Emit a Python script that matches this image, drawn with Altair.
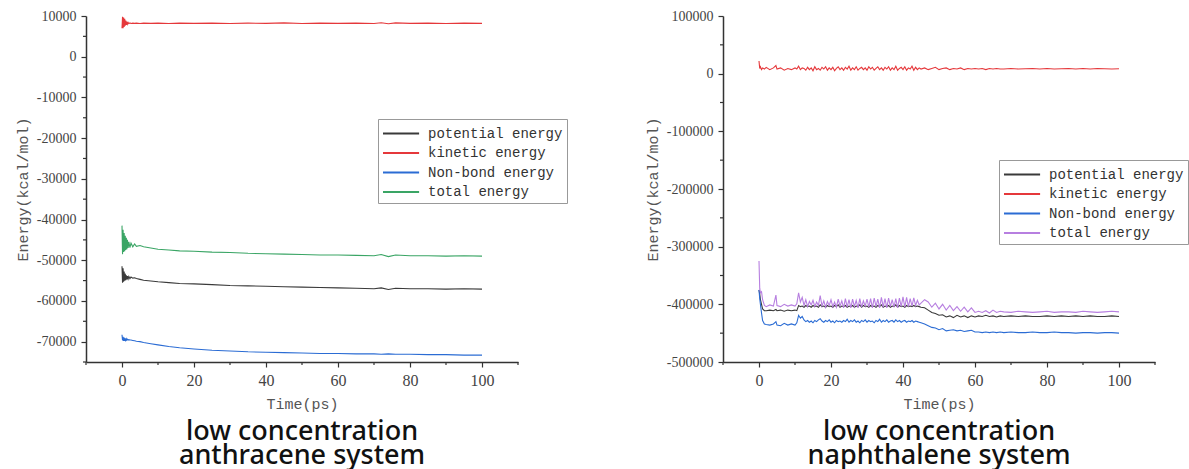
import altair as alt
import pandas as pd

SERIES = ["potential energy", "kinetic energy", "Non-bond energy", "total energy"]
COLORS_A = ["#3a3a3a", "#e5383b", "#2b6cd4", "#3aa565"]
COLORS_N = ["#3a3a3a", "#e5383b", "#2b6cd4", "#b77fe0"]

# ---------------- anthracene (left) ----------------
T_A = [0, 0.15, 0.3, 0.45, 0.6, 0.75, 0.9, 1.05, 1.2, 1.35,
       1.5, 1.7, 1.9, 2.2, 2.5, 3, 3.5, 4, 5, 6,
       8, 10, 13, 16, 20, 25, 30, 35, 40, 45,
       50, 55, 60, 65, 70, 72, 74, 76, 80, 85,
       90, 95, 100]
POT_A = [-51500, -55500, -52000, -55300, -52800, -55000, -53300, -54900, -53700, -54700,
         -53900, -54600, -54000, -54500, -54100, -54400, -54300, -54500, -54700, -54900,
         -55100, -55300, -55500, -55700, -55800, -56000, -56200, -56300, -56400, -56500,
         -56600, -56700, -56800, -56900, -57000, -56800, -57200, -56900, -57000, -57000,
         -57100, -57000, -57100]
KIN_A = [7000, 9800, 7000, 9600, 7300, 9300, 7600, 8900, 7800, 8600,
         8000, 8400, 8100, 8300, 8150, 8250, 8200, 8250, 8150, 8250,
         8200, 8250, 8150, 8250, 8200, 8250, 8150, 8250, 8200, 8300,
         8150, 8250, 8200, 8250, 8150, 8350, 8100, 8300, 8200, 8250,
         8150, 8250, 8200]
NB_A = [-68300, -69700, -68800, -69800, -69000, -69800, -69200, -69700, -69300, -69600,
        -69400, -69600, -69500, -69600, -69600, -69700, -69800, -69900, -70000, -70200,
        -70500, -70800, -71200, -71500, -71800, -72100, -72300, -72500, -72600, -72700,
        -72800, -72900, -72900, -73000, -73000, -73100, -73000, -73100, -73100, -73200,
        -73200, -73300, -73300]
TOT_A = [-41500, -48500, -42500, -48000, -43300, -47800, -44000, -47500, -44500, -47300,
         -45000, -47000, -45500, -46900, -45800, -46700, -46000, -46600, -46400, -46700,
         -47000, -47300, -47500, -47700, -47800, -48000, -48100, -48300, -48400, -48500,
         -48600, -48700, -48700, -48800, -48900, -48600, -49100, -48700, -48900, -48900,
         -49000, -48900, -49000]

# ---------------- naphthalene (right) ----------------
T_N = ([0, 0.2, 0.4, 0.7, 1.0, 1.5, 2, 3, 4, 4.7, 5, 6, 7, 8, 9, 10, 10.5, 11, 11.5, 12]
       + [12.5, 13, 13.5, 14, 14.5, 15, 15.5, 16, 16.5, 17, 17.5,
          18, 18.5, 19, 19.5, 20, 20.5, 21, 21.5, 22, 22.5, 23,
          23.5, 24, 24.5, 25, 25.5, 26, 26.5, 27, 27.5, 28, 28.5,
          29, 29.5, 30, 30.5, 31, 31.5, 32, 32.5, 33, 33.5, 34,
          34.5, 35, 35.5, 36, 36.5, 37, 37.5, 38, 38.5, 39, 39.5,
          40, 40.5, 41, 41.5, 42, 42.5, 43, 43.5, 44, 44.5, 45]
       + [46, 47, 48, 49, 50, 51, 52, 53, 54, 55, 56, 57, 58, 59, 60]
       + [61, 62, 63, 64, 65, 66, 67]
       + [68, 70, 72, 74, 76, 78, 80, 82, 84, 86, 88, 90, 92, 94, 96, 98, 100])

POT_N = ([-375000, -382000, -392000, -400000, -408000, -411000, -411000, -410000, -411000, -409000,
          -411000, -410000, -412000, -410000, -411000, -410000, -411000, -402000, -404000, -403000]
         + [-405000, -402000, -404000, -403000, -405000, -402000, -404000, -403000, -405000, -401000, -404000,
            -403000, -405000, -402000, -404000, -403000, -405000, -402000, -404000, -401000, -405000, -403000,
            -404000, -402000, -405000, -403000, -404000, -402000, -405000, -403000, -404000, -401000, -405000,
            -402000, -404000, -403000, -405000, -402000, -404000, -403000, -405000, -402000, -404000, -401000,
            -405000, -403000, -404000, -402000, -405000, -403000, -404000, -401000, -405000, -402000, -404000,
            -403000, -405000, -402000, -404000, -403000, -404000, -402000, -404000, -403000, -404000, -405000]
         + [-406000, -410000, -414000, -416000, -419000, -418000, -422000, -420000, -423000, -419000,
            -422000, -420000, -423000, -420000, -422000]
         + [-420000, -421000, -419000, -421000, -420000, -422000, -420000]
         + [-421000, -420000, -421000, -420000, -421000, -421000, -420000, -421000, -420000, -421000,
            -420000, -421000, -420000, -421000, -421000, -420000, -421000])

KIN_N = ([22000, 9000, 12000, 7000, 10000, 8000, 11000, 7000, 10000, 14000,
          8000, 10000, 6000, 9000, 7000, 10000, 8000, 13000, 7000, 10000]
         + [9000, 6000, 11000, 7000, 10000, 5000, 12000, 7000, 9000, 6000, 11000,
            8000, 12000, 6000, 10000, 7000, 11000, 5000, 9000, 12000, 7000, 10000,
            6000, 11000, 8000, 13000, 6000, 10000, 7000, 12000, 6000, 9000, 11000,
            7000, 10000, 6000, 12000, 8000, 11000, 6000, 9000, 12000, 7000, 10000,
            6000, 11000, 8000, 12000, 6000, 10000, 7000, 13000, 6000, 9000, 11000,
            7000, 12000, 6000, 10000, 8000, 13000, 6000, 11000, 7000, 10000, 8000]
         + [10000, 7000, 9000, 11000, 7000, 9000, 10000, 7000, 9000, 8000, 10000, 7000, 9000, 8000, 9000]
         + [8000, 9000, 7000, 9000, 8000, 9000, 8000]
         + [8000, 9000, 8000, 8500, 9000, 8000, 9000, 8000, 8500, 9000, 8000, 9000, 8000, 9000, 8500, 8000, 8500])

NB_N = ([-375000, -390000, -400000, -415000, -428000, -434000, -435000, -436000, -434000, -430000,
         -436000, -437000, -433000, -436000, -434000, -436000, -432000, -419000, -424000, -421000]
        + [-427000, -430000, -428000, -431000, -429000, -432000, -428000, -430000, -427000, -425000, -429000,
           -431000, -428000, -430000, -427000, -431000, -429000, -432000, -428000, -430000, -429000, -431000,
           -428000, -430000, -426000, -431000, -428000, -430000, -427000, -431000, -429000, -432000, -428000,
           -430000, -427000, -431000, -428000, -430000, -429000, -432000, -428000, -430000, -426000, -431000,
           -428000, -430000, -427000, -431000, -429000, -428000, -431000, -427000, -430000, -428000, -431000,
           -429000, -428000, -431000, -429000, -430000, -428000, -431000, -429000, -430000, -431000, -432000]
        + [-434000, -437000, -440000, -441000, -444000, -442000, -446000, -445000, -444000, -446000,
           -445000, -447000, -446000, -445000, -448000]
        + [-448000, -449000, -448000, -449000, -448000, -449000, -448000]
        + [-449000, -448000, -449000, -449000, -448000, -449000, -449000, -448000, -449000, -449000,
           -450000, -449000, -449000, -450000, -449000, -449000, -450000])

TOT_N = ([-325000, -372000, -380000, -378000, -392000, -402000, -404000, -401000, -403000, -384000,
          -402000, -404000, -400000, -403000, -401000, -403000, -399000, -380000, -396000, -388000]
         + [-402000, -392000, -404000, -395000, -401000, -393000, -404000, -396000, -402000, -385000, -403000,
            -394000, -405000, -395000, -402000, -392000, -404000, -396000, -405000, -391000, -403000, -394000,
            -406000, -390000, -405000, -392000, -406000, -391000, -404000, -393000, -406000, -390000, -405000,
            -394000, -403000, -391000, -405000, -390000, -406000, -389000, -404000, -391000, -406000, -388000,
            -405000, -390000, -406000, -389000, -404000, -392000, -405000, -390000, -406000, -389000, -404000,
            -387000, -405000, -388000, -404000, -390000, -403000, -389000, -402000, -393000, -401000, -398000]
         + [-392000, -396000, -405000, -398000, -408000, -400000, -410000, -402000, -411000, -404000,
            -412000, -405000, -413000, -406000, -414000]
         + [-412000, -414000, -411000, -415000, -410000, -414000, -412000]
         + [-413000, -414000, -412000, -413000, -414000, -413000, -412000, -414000, -413000, -413000,
            -414000, -412000, -413000, -414000, -413000, -412000, -413000])

X_MAJOR = [0, 20, 40, 60, 80, 100]
X_MINOR = [-10, 10, 30, 50, 70, 90, 110]
Y_MAJOR_A = [10000, 0, -10000, -20000, -30000, -40000, -50000, -60000, -70000]
Y_MINOR_A = [5000, -5000, -15000, -25000, -35000, -45000, -55000, -65000, -75000]
Y_MAJOR_N = [100000, 0, -100000, -200000, -300000, -400000, -500000]
Y_MINOR_N = [50000, -50000, -150000, -250000, -350000, -450000]

W, H = 432, 346


def long_df(t, cols):
    rows = []
    for name, vals in zip(SERIES, cols):
        for tt, v in zip(t, vals):
            rows.append({"t": tt, "e": v, "s": name})
    return pd.DataFrame(rows)


def panel(df, colors, ydom, ymajor, yminor, title_lines, lx, ly):
    xs = alt.Scale(domain=[-10, 110], nice=False, zero=False)
    ys = alt.Scale(domain=ydom, nice=False, zero=False)
    xax = alt.Axis(values=X_MAJOR, title="Time(ps)", labelFontSize=16, labelPadding=5, titlePadding=8)
    yax = alt.Axis(values=ymajor, title="Energy(kcal/mol)", labelFontSize=14, labelPadding=5, titlePadding=6,
                   labelExpr="'' + datum.value")
    lines = alt.Chart(df).mark_line(strokeWidth=1.1).encode(
        x=alt.X("t:Q", scale=xs, axis=xax),
        y=alt.Y("e:Q", scale=ys, axis=yax),
        color=alt.Color("s:N", scale=alt.Scale(domain=SERIES, range=colors),
                        legend=alt.Legend(title=None, orient="none", legendX=lx, legendY=ly,
                                          symbolType="M-1,0H2.8", symbolSize=361, symbolStrokeWidth=2,
                                          labelFont="Liberation Mono", labelFontSize=14, labelColor="#333",
                                          labelOffset=25, rowPadding=1.5, padding=4,
                                          strokeColor="#999", fillColor="white")),
    )
    ymin = alt.Chart(pd.DataFrame({"e": yminor})).mark_rule(color="#333", strokeWidth=1.2).encode(
        y=alt.Y("e:Q", scale=ys, axis=yax), x=alt.value(-3), x2=alt.value(0))
    xmin = alt.Chart(pd.DataFrame({"t": X_MINOR})).mark_rule(color="#333", strokeWidth=1.2).encode(
        x=alt.X("t:Q", scale=xs, axis=xax), y=alt.value(H), y2=alt.value(H + 3))
    return alt.layer(lines, ymin, xmin).properties(
        width=W, height=H,
        title=alt.TitleParams(title_lines, orient="bottom", anchor="middle", fontSize=27,
                              font="Noto Sans", fontWeight=500, color="#111", lineHeight=24, offset=8))


left = panel(long_df(T_A, [POT_A, KIN_A, NB_A, TOT_A]), COLORS_A, [-75000, 10000],
             Y_MAJOR_A, Y_MINOR_A, ["low concentration", "anthracene system"], 292, 103)
right = panel(long_df(T_N, [POT_N, KIN_N, NB_N, TOT_N]), COLORS_N, [-500000, 100000],
              Y_MAJOR_N, Y_MINOR_N, ["low concentration", "naphthalene system"], 276, 144)

chart = alt.hconcat(left, right, spacing=205, bounds="flush", background="white",
                    padding={"left": 15, "top": 9, "right": 0, "bottom": 0}).resolve_scale(
    x="independent", y="independent", color="independent"
).configure_view(stroke=None).configure_axis(
    grid=False, domainColor="#333", domainWidth=1.5, tickColor="#333", tickWidth=1.2, tickSize=5,
    labelColor="#444", labelFont="Liberation Serif", titleFont="Liberation Mono", titleFontSize=15,
    titleFontWeight="normal", titleColor="#555"
)

chart.save("out.html", embed_options={"renderer": "svg", "actions": False})
